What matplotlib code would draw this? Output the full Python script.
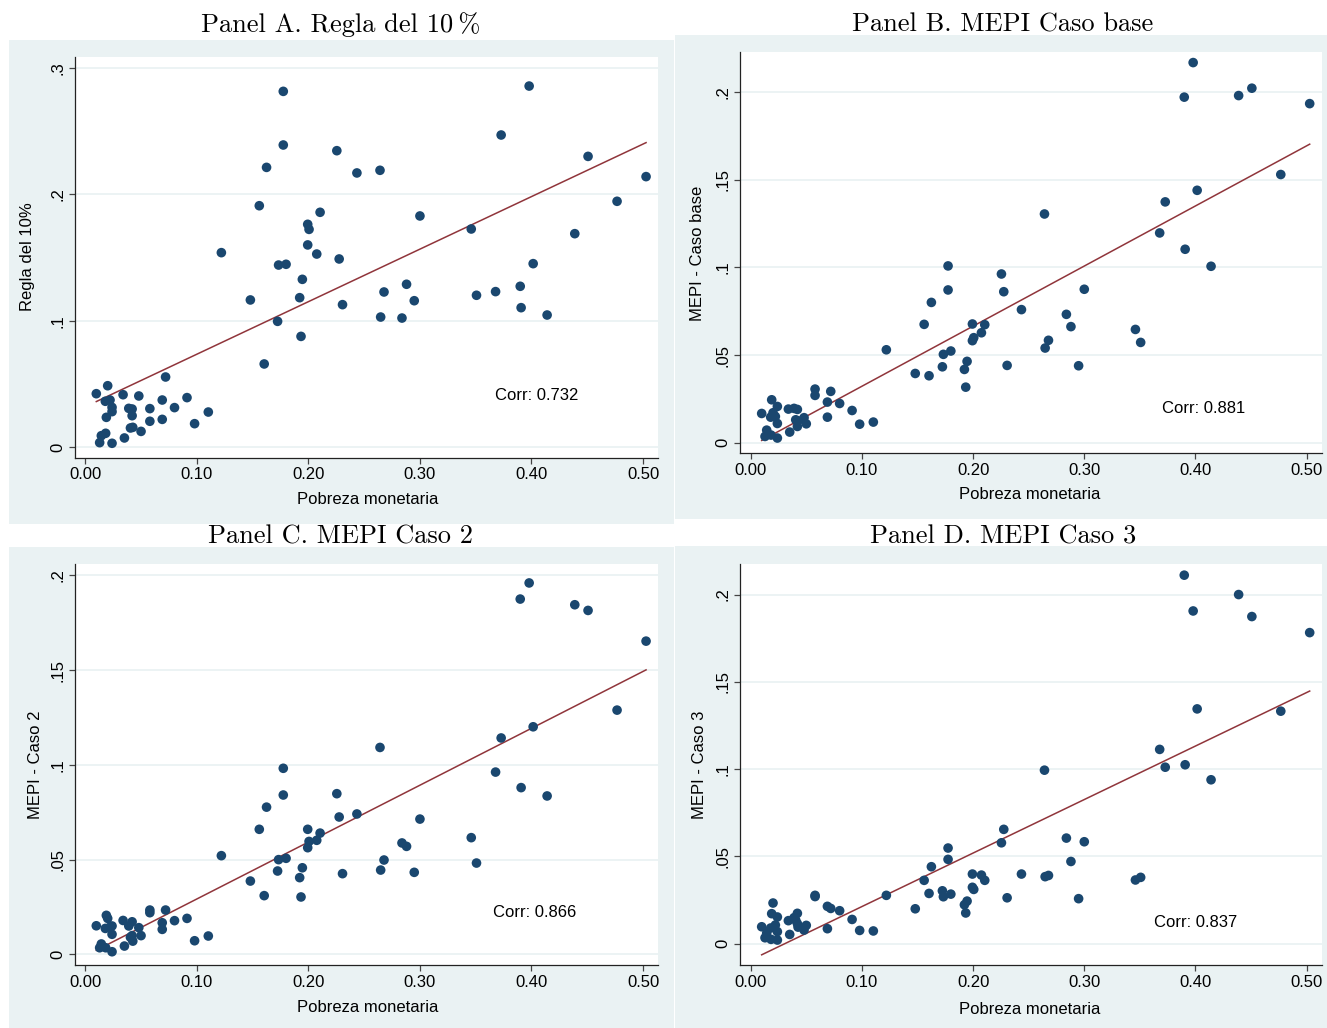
import numpy as np
import matplotlib.pyplot as plt
from matplotlib.patches import Rectangle

plt.rcParams['font.family'] = ['Liberation Sans', 'DejaVu Sans']

# Pobreza monetaria (same x for the four panels)
pobreza = [0.0099, 0.0129, 0.0144, 0.0180, 0.0183, 0.0189, 0.0201, 0.0222, 0.0240, 0.0240,
           0.0240, 0.0339, 0.0351, 0.0390, 0.0405, 0.0420, 0.0420, 0.0426, 0.0480, 0.0500,
           0.0579, 0.0579, 0.0690, 0.0690, 0.0720, 0.0800, 0.0912, 0.0980, 0.1103, 0.1220,
           0.1480, 0.1560, 0.1604, 0.1625, 0.1724, 0.1733, 0.1775, 0.1775, 0.1800, 0.1922,
           0.1934, 0.1946, 0.1994, 0.1994, 0.2006, 0.2075, 0.2105, 0.2255, 0.2276, 0.2306,
           0.2435, 0.2642, 0.2648, 0.2678, 0.2839, 0.2880, 0.2949, 0.3000, 0.3460, 0.3507,
           0.3678, 0.3728, 0.3899, 0.3907, 0.3979, 0.4015, 0.4140, 0.4388, 0.4507, 0.4767,
           0.5027]

# Panel A: Regla del 10%
regla_10 = [0.0424, 0.0037, 0.0092, 0.0364, 0.0111, 0.0237, 0.0487, 0.0374, 0.0316, 0.0282,
            0.0032, 0.0416, 0.0074, 0.0308, 0.0153, 0.0303, 0.0250, 0.0158, 0.0406, 0.0126,
            0.0306, 0.0206, 0.0374, 0.0221, 0.0556, 0.0314, 0.0393, 0.0187, 0.0279, 0.1539,
            0.1165, 0.1910, 0.0659, 0.2213, 0.0996, 0.1441, 0.2814, 0.2390, 0.1447, 0.1183,
            0.0877, 0.1328, 0.1763, 0.1600, 0.1723, 0.1528, 0.1858, 0.2345, 0.1489, 0.1128,
            0.2169, 0.2190, 0.1030, 0.1228, 0.1022, 0.1289, 0.1159, 0.1829, 0.1726, 0.1202,
            0.1231, 0.2469, 0.1273, 0.1104, 0.2856, 0.1452, 0.1046, 0.1689, 0.2300, 0.1945,
            0.2140]

# Panel B: MEPI caso base
mepi_base = [0.0167, 0.0036, 0.0072, 0.0146, 0.0044, 0.0245, 0.0171, 0.0150, 0.0207, 0.0110,
             0.0027, 0.0192, 0.0061, 0.0196, 0.0131, 0.0190, 0.0093, 0.0125, 0.0143, 0.0108,
             0.0306, 0.0270, 0.0232, 0.0146, 0.0293, 0.0224, 0.0184, 0.0106, 0.0118, 0.0530,
             0.0395, 0.0675, 0.0382, 0.0800, 0.0433, 0.0504, 0.1008, 0.0871, 0.0523, 0.0418,
             0.0317, 0.0464, 0.0677, 0.0582, 0.0599, 0.0627, 0.0673, 0.0962, 0.0861, 0.0441,
             0.0759, 0.1304, 0.0540, 0.0584, 0.0732, 0.0662, 0.0439, 0.0875, 0.0646, 0.0572,
             0.1196, 0.1373, 0.1970, 0.1103, 0.2167, 0.1439, 0.1006, 0.1979, 0.2021, 0.1529,
             0.1933]

# Panel C: MEPI caso 2
mepi_caso2 = [0.0151, 0.0035, 0.0055, 0.0137, 0.0035, 0.0206, 0.0190, 0.0144, 0.0150, 0.0106,
              0.0014, 0.0179, 0.0044, 0.0150, 0.0090, 0.0172, 0.0099, 0.0070, 0.0141, 0.0099,
              0.0234, 0.0220, 0.0167, 0.0132, 0.0234, 0.0178, 0.0190, 0.0072, 0.0097, 0.0521,
              0.0387, 0.0660, 0.0310, 0.0777, 0.0440, 0.0500, 0.0982, 0.0841, 0.0507, 0.0405,
              0.0303, 0.0457, 0.0660, 0.0563, 0.0596, 0.0602, 0.0640, 0.0848, 0.0725, 0.0426,
              0.0741, 0.1092, 0.0445, 0.0498, 0.0588, 0.0570, 0.0433, 0.0714, 0.0616, 0.0482,
              0.0962, 0.1142, 0.1875, 0.0880, 0.1960, 0.1201, 0.0836, 0.1845, 0.1815, 0.1289,
              0.1653]

# Panel D: MEPI caso 3
mepi_caso3 = [0.0097, 0.0034, 0.0060, 0.0090, 0.0025, 0.0172, 0.0233, 0.0107, 0.0153, 0.0069,
              0.0021, 0.0132, 0.0053, 0.0149, 0.0135, 0.0174, 0.0115, 0.0095, 0.0078, 0.0105,
              0.0277, 0.0270, 0.0214, 0.0086, 0.0202, 0.0189, 0.0139, 0.0076, 0.0073, 0.0277,
              0.0200, 0.0363, 0.0288, 0.0441, 0.0303, 0.0269, 0.0548, 0.0483, 0.0284, 0.0223,
              0.0176, 0.0244, 0.0399, 0.0323, 0.0311, 0.0393, 0.0363, 0.0578, 0.0655, 0.0263,
              0.0399, 0.0994, 0.0384, 0.0391, 0.0605, 0.0471, 0.0258, 0.0584, 0.0365, 0.0380,
              0.1113, 0.1011, 0.2111, 0.1025, 0.1906, 0.1345, 0.0939, 0.2000, 0.1874, 0.1332,
              0.1782]

series = [regla_10, mepi_base, mepi_caso2, mepi_caso3]
titles = ["Panel A. Regla del 10\u2009%", "Panel B. MEPI Caso base",
          "Panel C. MEPI Caso 2", "Panel D. MEPI Caso 3"]
y_labels = ["Regla del 10%", "MEPI - Caso base", "MEPI - Caso 2", "MEPI - Caso 3"]
corr_labels = ["Corr: 0.732", "Corr: 0.881", "Corr: 0.866", "Corr: 0.837"]
x_ticks = [0.0, 0.1, 0.2, 0.3, 0.4, 0.5]
x_ticklabels = ["0.00", "0.10", "0.20", "0.30", "0.40", "0.50"]
y_ticks = [[0, 0.1, 0.2, 0.3], [0, 0.05, 0.1, 0.15, 0.2],
           [0, 0.05, 0.1, 0.15, 0.2], [0, 0.05, 0.1, 0.15, 0.2]]
y_ticklabels = [["0", ".1", ".2", ".3"], ["0", ".05", ".1", ".15", ".2"],
                ["0", ".05", ".1", ".15", ".2"], ["0", ".05", ".1", ".15", ".2"]]

# layout in pixels: axes box, background box, title/ylabel/xlabel centres
W, H = 1327, 1028
layout = [
    dict(ax=(75, 56.7, 658, 457.7), bg=(9, 39.5, 674, 524), title=(341, 25),
         ylab=(28, 257), xlab=(368, 500), xlim=(-0.0092, 0.5134), ylim=(-0.0082, 0.3088),
         corr=(0.405, 0.0406)),
    dict(ax=(740, 51.7, 1321.7, 453.3), bg=(675, 35, 1327, 519), title=(1003, 25),
         ylab=(697, 253), xlab=(1030, 494), xlim=(-0.0096, 0.5135), ylim=(-0.006, 0.2229),
         corr=(0.4076, 0.0198)),
    dict(ax=(75, 564, 658, 965), bg=(9, 547, 674, 1028), title=(341, 537),
         ylab=(36, 765), xlab=(368, 1008), xlim=(-0.0092, 0.5134), ylim=(-0.0056, 0.206),
         corr=(0.403, 0.0223)),
    dict(ax=(740, 564, 1321.7, 965), bg=(675, 546, 1327, 1028), title=(1003, 537),
         ylab=(700, 765), xlab=(1030, 1010), xlim=(-0.0096, 0.5135), ylim=(-0.0122, 0.2175),
         corr=(0.3998, 0.0124)),
]

BG = '#EAF2F3'
NAVY = '#1A476F'
MAROON = '#90353B'

fig = plt.figure(figsize=(W / 100, H / 100), dpi=100)
fig.patch.set_facecolor('white')

for i, lay in enumerate(layout):
    x0, y0, x1, y1 = lay['bg']
    fig.add_artist(Rectangle((x0 / W, 1 - y1 / H), (x1 - x0) / W, (y1 - y0) / H,
                             transform=fig.transFigure, facecolor=BG, edgecolor='none',
                             zorder=0))

    x0, y0, x1, y1 = lay['ax']
    ax = fig.add_axes([x0 / W, 1 - y1 / H, (x1 - x0) / W, (y1 - y0) / H])
    ax.set_facecolor('white')
    ax.set_zorder(1)

    x = np.array(pobreza)
    y = np.array(series[i])
    ax.scatter(x, y, s=48, color=NAVY, edgecolors='none', zorder=3)

    # linear fit
    slope, intercept = np.polyfit(x, y, 1)
    xs = np.array([x.min(), x.max()])
    ax.plot(xs, intercept + slope * xs, color=MAROON, lw=1.1, zorder=2)

    ax.set_xlim(*lay['xlim'])
    ax.set_ylim(*lay['ylim'])
    ax.set_xticks(x_ticks)
    ax.set_xticklabels(x_ticklabels)
    ax.set_yticks(y_ticks[i])
    ax.set_yticklabels(y_ticklabels[i], rotation=90, va='center')

    ax.yaxis.grid(True, color=BG, lw=1.3)
    ax.set_axisbelow(True)
    for side in ['top', 'right']:
        ax.spines[side].set_visible(False)
    for side in ['left', 'bottom']:
        ax.spines[side].set_color('#222222')
        ax.spines[side].set_linewidth(0.9)
    ax.tick_params(direction='out', length=4, width=0.9, color='#444444',
                   labelsize=12, pad=3)

    cx, cy = lay['corr']
    ax.text(cx, cy, corr_labels[i], ha='center', va='center', fontsize=12, zorder=4)

    tx, ty = lay['title']
    fig.text(tx / W, 1 - ty / H, titles[i], ha='center', va='center',
             fontsize=19, family=['cmr10', 'DejaVu Serif'])
    lx, ly = lay['ylab']
    fig.text(lx / W, 1 - ly / H, y_labels[i], ha='center', va='center',
             rotation=90, fontsize=12)
    bx, by = lay['xlab']
    fig.text(bx / W, 1 - by / H, "Pobreza monetaria", ha='center', va='center',
             fontsize=12)

fig.savefig('out.png', dpi=100)
